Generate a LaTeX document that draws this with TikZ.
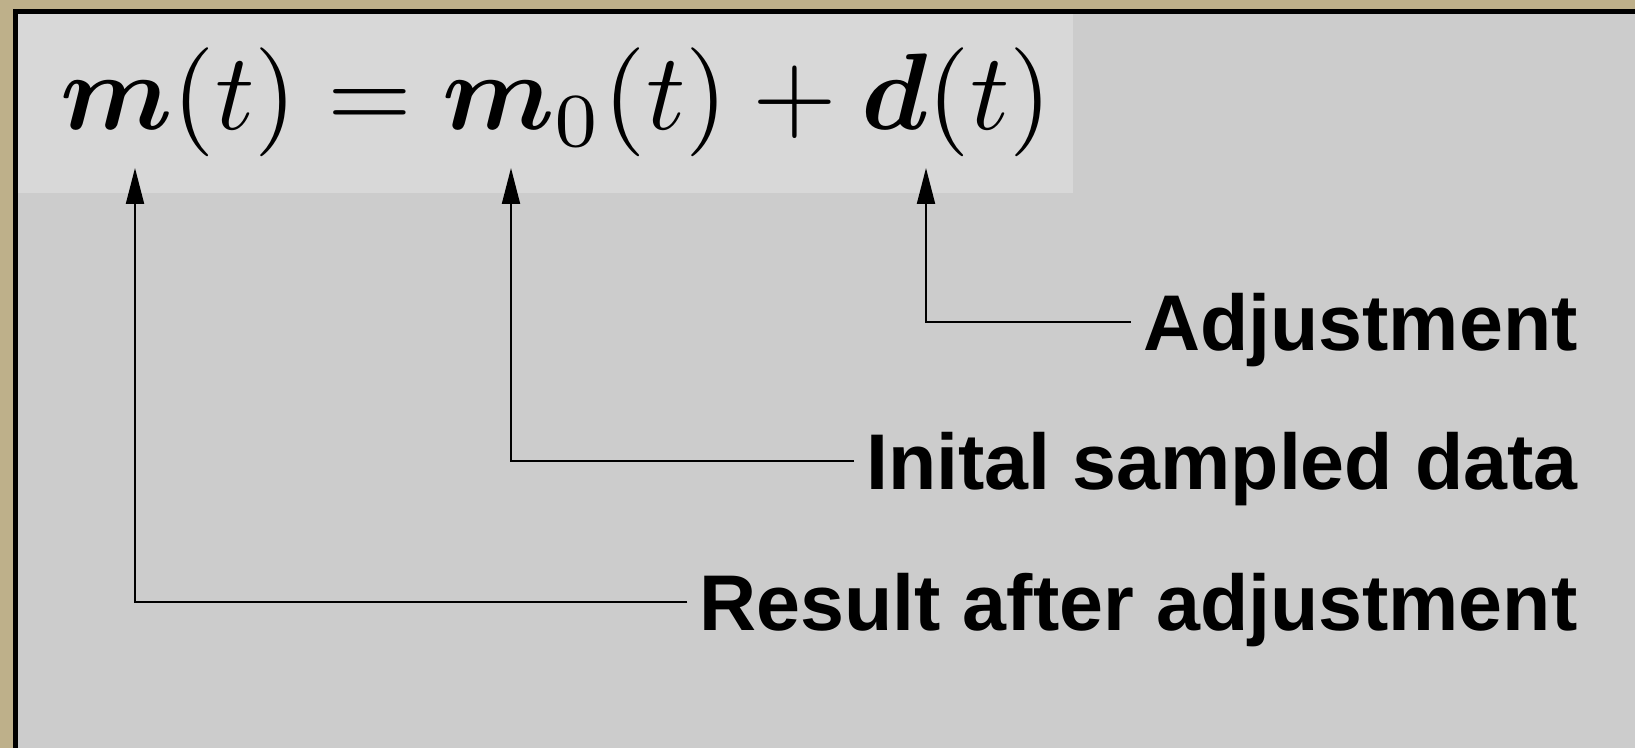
\documentclass[tikz,border=0pt]{standalone}
\usepackage{amsmath}
\usepackage{graphicx}
\usepackage{xcolor}
\usepackage{fontspec}
\setsansfont{Liberation Sans}
\usepackage{tikz}
\usetikzlibrary{arrows.meta, positioning, calc}

\definecolor{parchment}{RGB}{190,176,138}
\definecolor{panelgrey}{RGB}{204,204,204}
\definecolor{eqgrey}{RGB}{216,216,216}

\begin{document}
\begin{tikzpicture}[x=0.5pt, y=0.5pt,
  lbl/.style={anchor=south east, inner xsep=6pt, inner ysep=0pt, text height=28.3pt, text depth=0pt,
    font=\sffamily\bfseries\fontsize{39.5}{40}\selectfont},
  pointer/.style={-{Triangle[length=18pt, width=9pt]}, line width=1pt}]

% page, frame and grey panel
\useasboundingbox (0,0) rectangle (1635,748);
\fill[parchment] (0,0) rectangle (1635,748);
\fill[black] (13,0) rectangle (1635,739);
\fill[panelgrey] (18,0) rectangle (1635,734);
\fill[eqgrey] (18,555) rectangle (1073,734);

% formula
\node[anchor=base west, inner sep=0pt] (eqn) at (60,618)
  {\scalebox{5.45}{$\boldsymbol{m}(t) = \boldsymbol{m}_0(t) + \boldsymbol{d}(t)$}};

% where the arrows end, under each term
\coordinate (tipm)  at (135,580);
\coordinate (tipmz) at (511,580);
\coordinate (tipd)  at (926,580);

% labels, right aligned
\node[lbl] (adjust)  at (1590,397) {Adjustment};
\node[lbl] (initial) at (1590,258) {Inital sampled data};
\node[lbl] (result)  at (1590,117) {Result after adjustment};

% arrows
\draw[pointer] (adjust.west) -| (tipd);
\draw[pointer] (initial.west) -| (tipmz);
\draw[pointer] (result.west) -| (tipm);

\end{tikzpicture}
\end{document}
